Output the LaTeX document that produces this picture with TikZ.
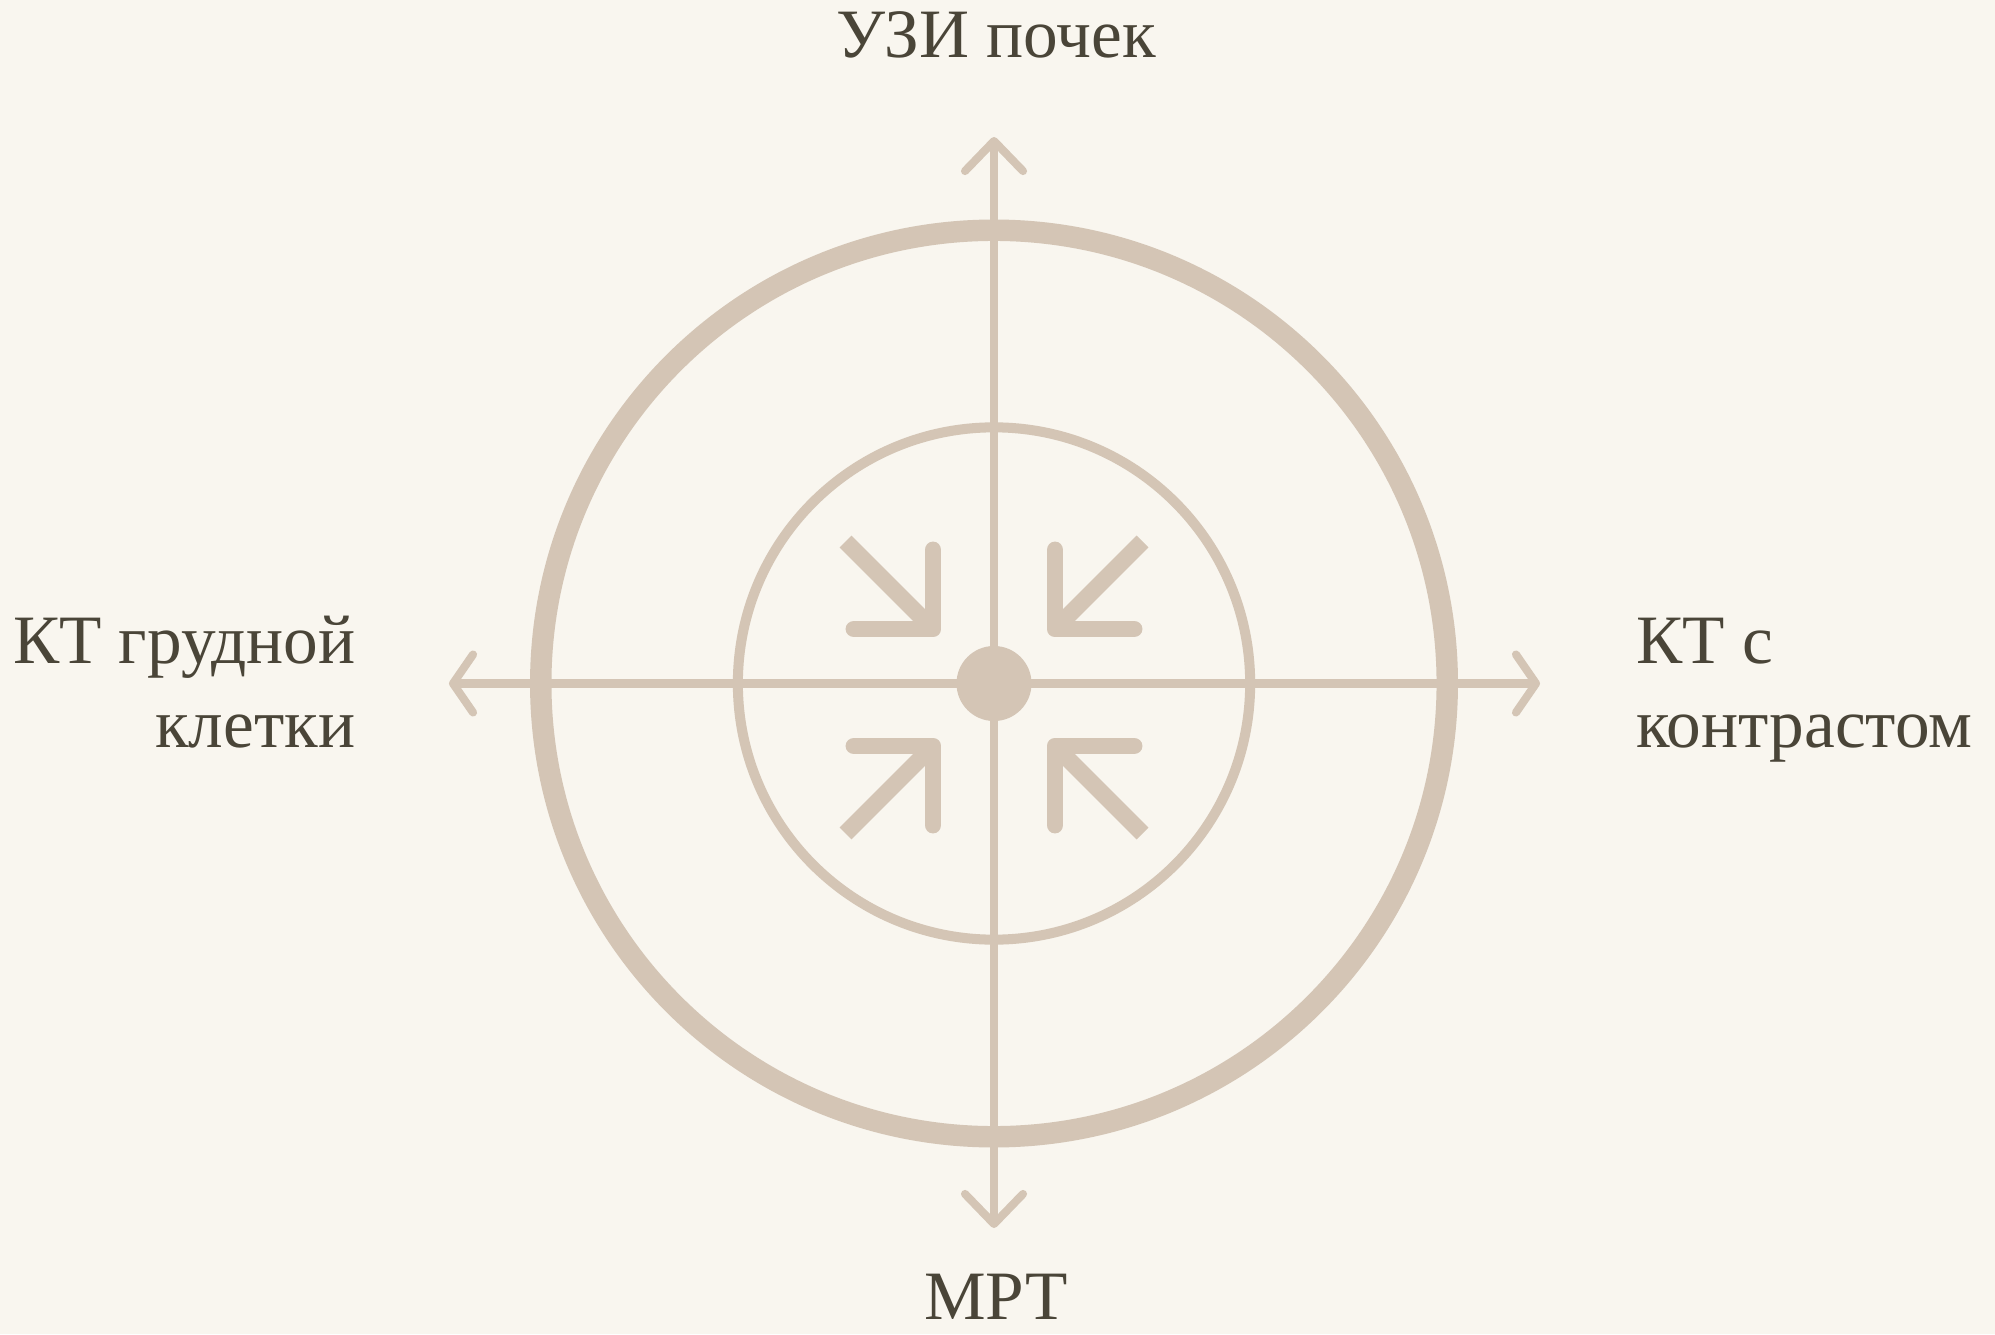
\documentclass[tikz,border=0pt]{standalone}
\usepackage{fontspec}
\setmainfont{Liberation Serif}
\usetikzlibrary{arrows.meta}
\definecolor{paper}{HTML}{F9F6EF}
\definecolor{sand}{HTML}{D4C5B5}
\definecolor{ink}{HTML}{4A4538}

\begin{document}
\begin{tikzpicture}[
  x=0.01cm, y=-0.01cm,
  font=\fontsize{19.7}{23.8}\selectfont,
  axis/.style={draw=sand, line width=2.3pt},
  vtip/.style={-{Straight Barb[length=3mm, width=5.8mm, round]}},
  htip/.style={-{Straight Barb[length=2mm, width=5.8mm, round]}},
  ring/.style={draw=sand},
  pin/.style={draw=sand, line width=4.8pt},
  tag/.style={text=ink, inner sep=0pt},
]
  \fill[paper] (0,0) rectangle (1995,1334);
  \useasboundingbox (0,0) rectangle (1995,1334);

  % ===== centre and rings =====
  \node[circle, fill=sand, minimum size=0.75cm, inner sep=0pt] (core) at (994,683.5) {};
  \draw[ring, line width=6.1pt] (core.center) circle (4.53cm);
  \draw[ring, line width=2.85pt] (core.center) circle (2.56cm);

  % ===== axes =====
  \coordinate (up) at (994,137);
  \coordinate (down) at (994,1228);
  \coordinate (west) at (449,683.5);
  \coordinate (east) at (1540,683.5);
  \draw[axis, vtip] (core.center) -- (up);
  \draw[axis, vtip] (core.center) -- (down);
  \draw[axis, htip] (core.center) -- (west);
  \draw[axis, htip] (core.center) -- (east);

  % ===== inward arrows =====
  \foreach \sx/\sy in {-1/-1, 1/-1, -1/1, 1/1} {
    \coordinate (c) at ({994+61*\sx},{687.5+58.5*\sy});
    \draw[pin, line cap=butt] (c) ++(87.5*\sx,87.5*\sy) -- (c);
    \draw[pin, line cap=round, line join=round] (c) ++(79*\sx,0) -- (c) -- ++(0,79*\sy);
  }

  % ===== labels =====
  \node[tag, anchor=base] (lblN) at (996,58) {УЗИ почек};
  \node[tag, anchor=base] (lblS) at (996,1319) {МРТ};
  \node[tag, anchor=base east, align=right] (lblW) at (356,747) {КТ грудной\\клетки};
  \node[tag, anchor=base west, align=left] (lblE) at (1636,747) {КТ с\\контрастом};
\end{tikzpicture}
\end{document}
